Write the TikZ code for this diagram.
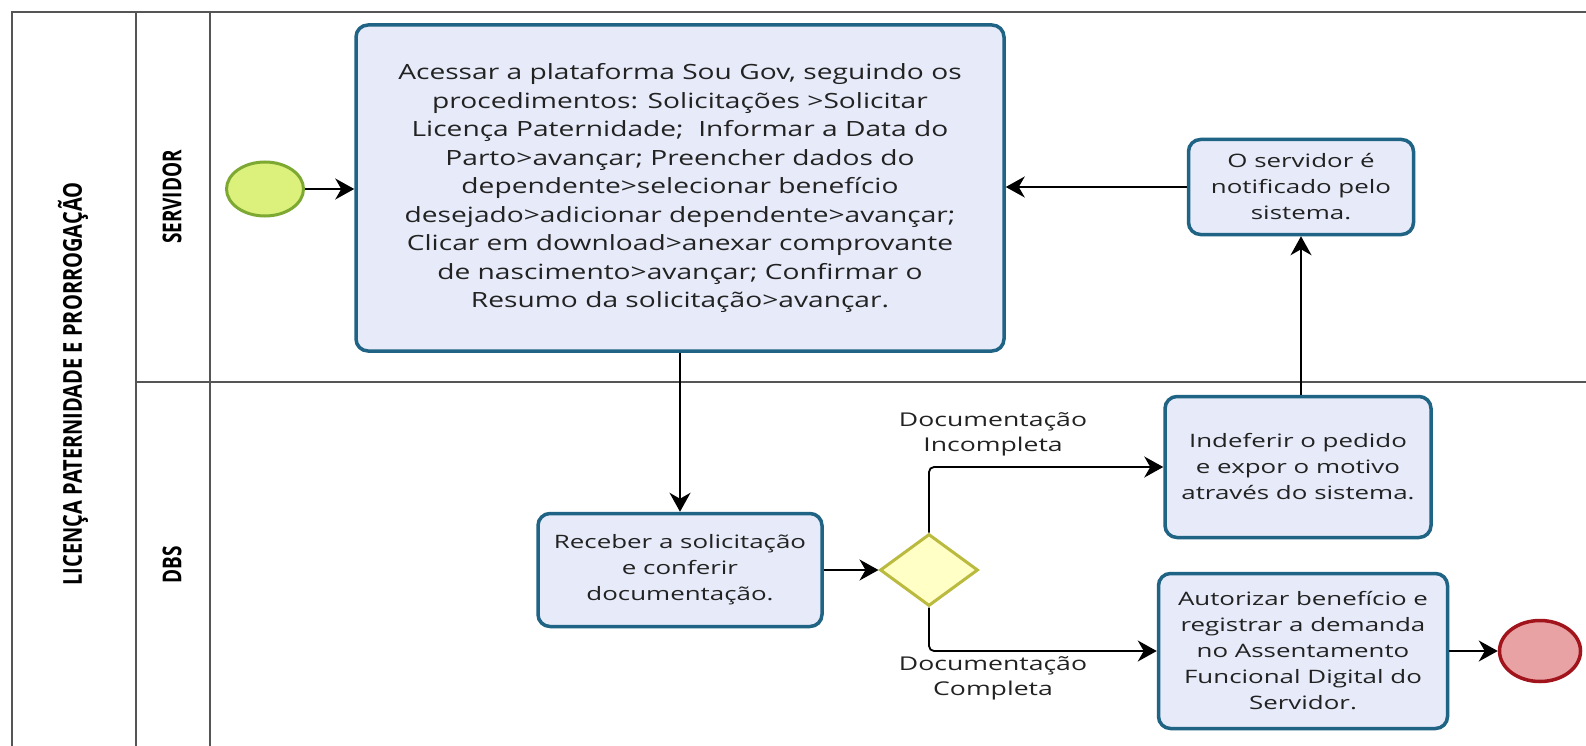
\documentclass[tikz,border=0pt]{standalone}
\usepackage{fontspec}
\setmainfont{Open Sans}
\newfontfamily\taskfont[FakeStretch=1.34]{Open Sans}
\newfontfamily\smallfont[FakeStretch=1.4]{Open Sans}
\newfontfamily\lanefont[FakeStretch=0.73]{Open Sans}
\newfontfamily\titlefont[FakeStretch=0.77]{Open Sans}
\usetikzlibrary{shapes.geometric,arrows.meta,positioning,calc}
\definecolor{taskfill}{HTML}{E7EBF9}
\definecolor{taskdraw}{HTML}{1F6385}
\definecolor{startfill}{HTML}{DCF07C}
\definecolor{startdraw}{HTML}{7DA832}
\definecolor{endfill}{HTML}{E9A2A4}
\definecolor{enddraw}{HTML}{A2141C}
\definecolor{gwfill}{HTML}{FFFFC6}
\definecolor{gwdraw}{HTML}{BABA3E}
\definecolor{lanecol}{HTML}{555555}
\definecolor{txt}{HTML}{222222}
\tikzset{
  taskbox/.style={draw=taskdraw, fill=taskfill, line width=3.5pt, rounded corners=12pt,
    align=center, text=txt, inner sep=4pt},
  bigtext/.style={font=\taskfont\fontsize{21}{28.5}\selectfont},
  smalltext/.style={font=\smallfont\fontsize{18.5}{26}\selectfont},
  startev/.style={ellipse, draw=startdraw, fill=startfill, line width=3pt, inner sep=0pt},
  endev/.style={ellipse, draw=enddraw, fill=endfill, line width=3.5pt, inner sep=0pt},
  gateway/.style={diamond, draw=gwdraw, fill=gwfill, line width=3pt, inner sep=0pt, aspect=1.36},
  flow/.style={draw=black, line width=1.8pt, -{Stealth[length=19pt,width=21pt,inset=6pt]}},
  lane/.style={draw=lanecol, line width=1.8pt},
  lanelabel/.style={font=\lanefont\bfseries\fontsize{26}{30}\selectfont, rotate=90, text=black},
  flowlabel/.style={font=\smallfont\fontsize{19}{25}\selectfont, align=center, text=txt}
}
\begin{document}
\begin{tikzpicture}[x=1pt,y=-1pt]
\useasboundingbox (0,0) rectangle (1586,746);
\fill[white] (0,0) rectangle (1586,746);
% pool and lanes
\draw[lane] (12,760) -- (12,12) -- (1600,12);
\draw[lane] (136,12) -- (136,760);
\draw[lane] (210,12) -- (210,760);
\draw[lane] (136,382) -- (1600,382);
\node[lanelabel, font=\titlefont\bfseries\fontsize{26}{30}\selectfont] (pool) at (73,384) {LICENÇA PATERNIDADE E PRORROGAÇÃO};
\node[lanelabel] (l1) at (172,197) {SERVIDOR};
\node[lanelabel] (l2) at (172,565) {DBS};
% nodes
\node[startev, minimum width=77pt, minimum height=54pt] (start) at (265,189) {};
\node[taskbox, bigtext, minimum width=648pt, minimum height=326pt] (t1) at (680,188)
 {Acessar a plataforma Sou Gov, seguindo os\\
  procedimentos: Solicitações >Solicitar\\
  Licença Paternidade;\ \ Informar a Data do\\
  Parto>avançar; Preencher dados do\\
  dependente>selecionar benefício\\
  desejado>adicionar dependente>avançar;\\
  Clicar em download>anexar comprovante\\
  de nascimento>avançar; Confirmar o\\
  Resumo da solicitação>avançar.};
\node[taskbox, smalltext, minimum width=225pt, minimum height=95pt] (notif) at (1301,187)
 {O servidor é\\notificado pelo\\sistema.};
\node[taskbox, smalltext, minimum width=284pt, minimum height=113pt] (recv) at (680,570)
 {Receber a solicitação\\e conferir\\documentação.};
\node[gateway, minimum width=98pt, minimum height=72pt] (gw) at (929,570) {};
\node[taskbox, smalltext, minimum width=266pt, minimum height=141pt] (indef) at (1298,467)
 {Indeferir o pedido\\e expor o motivo\\através do sistema.};
\node[taskbox, smalltext, minimum width=289pt, minimum height=155pt] (autor) at (1303,651)
 {Autorizar benefício e\\registrar a demanda\\no Assentamento\\Funcional Digital do\\Servidor.};
\node[endev, minimum width=81pt, minimum height=61pt] (end) at (1540,651) {};
% flows
\draw[flow] (start) -- (t1.west |- start);
\draw[flow] (notif.west) -- (t1.east |- notif.west);
\draw[flow] (t1.south) -- (recv.north);
\draw[flow] (recv.east) -- (gw.west);
\draw[flow, rounded corners=5pt] (gw.north) |- (indef.west);
\draw[flow, rounded corners=5pt] (gw.south) |- (autor.west);
\draw[flow] (indef.north -| notif.south) -- (notif.south);
\draw[flow] (autor.east) -- (end.west);
% labels
\node[flowlabel] (lab1) at (993,434) {Documentação\\Incompleta};
\node[flowlabel] (lab2) at (993,678) {Documentação\\Completa};
\end{tikzpicture}
\end{document}
